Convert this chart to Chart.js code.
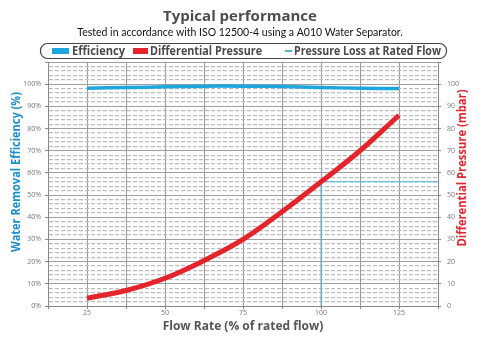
<!DOCTYPE html>
<html>
<head>
<meta charset="utf-8">
<script src="https://cdn.jsdelivr.net/npm/chart.js@4.4.0/dist/chart.umd.min.js"></script>
<style>
html, body { margin: 0; padding: 0; background: #fff; }
</style>
</head>
<body>
<canvas id="perf-chart" width="480" height="337"></canvas>
<script>
// flow rate, % of rated flow
const flowRate = [25, 37.5, 50, 62.5, 75, 87.5, 100, 112.5, 125];
// water removal efficiency, %
const efficiency = [98.2, 98.5, 98.8, 99.1, 99.1, 98.9, 98.5, 98.2, 98.0];
// differential pressure, mbar
const diffPressure = [3.5, 7, 12.5, 20.5, 30, 42.5, 56, 70, 86];
// pressure loss at rated flow marker
const ratedFlow = 100;
const ratedLoss = 56;
const flowMin = 12.5;
const flowMax = 137.5;

const seriesNames = ["Efficiency", "Differential Pressure", "Pressure Loss at Rated Flow"];
const xTickLabels = [25, 50, 75, 100, 125];
const effTickLabels = [0, 10, 20, 30, 40, 50, 60, 70, 80, 90, 100];
const dpTickLabels = [0, 10, 20, 30, 40, 50, 60, 70, 80, 90, 100];

const titleText = "Typical performance";
const subtitleText = "Tested in accordance with ISO 12500-4 using a A010 Water Separator.";
const xTitle = "Flow Rate (% of rated flow)";
const yTitle = "Water Removal Efficiency (%)";
const y2Title = "Differential Pressure (mbar)";

const BLUE = '#1ea6de';
const RED = '#e5232b';
const THIN_BLUE = '#4fb0d8';
const FONT = "'Open Sans', sans-serif";

function isMajor(c) {
  return c.tick && c.tick.value % 10 === 0;
}

// legend box + rotated axis titles
const extras = {
  id: 'extras',
  afterDraw(chart) {
    const ctx = chart.ctx;
    const ds = chart.data.datasets;
    ctx.save();
    // legend frame
    ctx.strokeStyle = '#444';
    ctx.lineWidth = 1.2;
    ctx.beginPath();
    ctx.roundRect(40.5, 43.5, 406, 15, 7);
    ctx.stroke();

    ctx.font = "bold 12px " + FONT;
    ctx.textBaseline = 'middle';
    ctx.fillStyle = ds[0].borderColor;
    ctx.fillRect(52, 48, 17, 6);
    ctx.fillStyle = '#4a4a4a';
    ctx.fillText(ds[0].label, 72, 51.5, 53);

    ctx.fillStyle = ds[1].borderColor;
    ctx.fillRect(133, 48, 15, 6);
    ctx.fillStyle = '#4a4a4a';
    ctx.fillText(ds[1].label, 150, 51.5, 112);

    ctx.strokeStyle = ds[2].borderColor;
    ctx.lineWidth = 2;
    ctx.beginPath();
    ctx.moveTo(285, 51);
    ctx.lineTo(292, 51);
    ctx.stroke();
    ctx.fillStyle = '#4a4a4a';
    ctx.fillText(ds[2].label, 294, 51.5, 147);

    // y axis titles, both read bottom to top
    ctx.font = "bold 12px " + FONT;
    ctx.textAlign = 'center';
    ctx.translate(17, 172);
    ctx.rotate(-Math.PI / 2);
    ctx.fillStyle = '#1a8fd0';
    ctx.fillText(yTitle, 0, 0, 160);
    ctx.restore();

    ctx.save();
    ctx.font = "bold 12px " + FONT;
    ctx.textAlign = 'center';
    ctx.textBaseline = 'middle';
    ctx.translate(463, 168);
    ctx.rotate(-Math.PI / 2);
    ctx.fillStyle = '#e3262f';
    ctx.fillText(y2Title, 0, 0, 157);
    ctx.restore();
  }
};

new Chart(document.getElementById("perf-chart"), {
  type: 'line',
  data: {
    datasets: [{
      label: seriesNames[0],
      data: flowRate.map((x, i) => ({ x: x, y: efficiency[i] })),
      yAxisID: 'y',
      borderColor: BLUE,
      borderWidth: 3.5,
      pointRadius: 0,
      tension: 0.4
    }, {
      label: seriesNames[1],
      data: flowRate.map((x, i) => ({ x: x, y: diffPressure[i] })),
      yAxisID: 'y2',
      borderColor: RED,
      borderWidth: 5,
      pointRadius: 0,
      tension: 0.4
    }, {
      label: seriesNames[2],
      data: [{ x: ratedFlow, y: 0 }, { x: ratedFlow, y: ratedLoss }, { x: flowMax, y: ratedLoss }],
      yAxisID: 'y2',
      borderColor: THIN_BLUE,
      borderWidth: 1,
      pointRadius: 0,
      tension: 0
    }]
  },
  options: {
    responsive: false,
    animation: false,
    layout: { padding: 0 },
    plugins: {
      legend: { display: false },
      tooltip: { enabled: false },
      title: {
        display: true,
        text: titleText,
        color: '#4d4d4d',
        font: { size: 15, weight: 'bold', family: FONT },
        padding: { top: 8, bottom: 0 }
      },
      subtitle: {
        display: true,
        text: subtitleText,
        color: '#111',
        font: { size: 10.5, family: "Lato, sans-serif" },
        padding: { top: 0.5, bottom: 22.9 }
      }
    },
    scales: {
      x: {
        type: 'linear',
        min: flowMin,
        max: flowMax,
        afterFit: s => { s.height = 31; },
        ticks: {
          stepSize: 12.5,
          autoSkip: false,
          maxRotation: 0,
          padding: 0,
          color: '#777',
          font: { size: 7, family: FONT },
          callback: v => xTickLabels.includes(v) ? String(v) : ''
        },
        grid: { color: '#9a9a9a', lineWidth: 1, tickLength: 3, tickColor: '#888' },
        border: { color: '#888' },
        title: {
          display: true,
          text: xTitle,
          color: '#555',
          font: { size: 12, weight: 'bold', family: FONT },
          padding: { top: 0, bottom: 3 }
        }
      },
      y: {
        position: 'left',
        min: 0,
        max: 110,
        afterFit: s => { s.width = 48; },
        ticks: {
          stepSize: 2,
          autoSkip: false,
          padding: 4,
          color: '#777',
          font: { size: 7, family: FONT },
          callback: v => effTickLabels.includes(v) ? v + '%' : ''
        },
        grid: {
          color: c => isMajor(c) ? '#a0a0a0' : '#bdbdbd',
          lineWidth: c => isMajor(c) ? 1 : 1.2,
          tickLength: 3,
          tickColor: c => isMajor(c) ? '#888' : 'rgba(0,0,0,0)'
        },
        border: {
          color: '#888',
          dash: c => (c.tick && c.tick.value % 10 !== 0) ? [4, 2] : []
        }
      },
      y2: {
        position: 'right',
        min: 0,
        max: 110,
        afterFit: s => { s.width = 42; },
        ticks: {
          stepSize: 10,
          padding: 6,
          color: '#777',
          font: { size: 7, family: FONT },
          callback: v => dpTickLabels.includes(v) ? String(v) : ''
        },
        grid: { drawOnChartArea: false, tickLength: 3, tickColor: '#888' },
        border: { color: '#888' }
      }
    }
  },
  plugins: [extras]
});
</script>
</body>
</html>
